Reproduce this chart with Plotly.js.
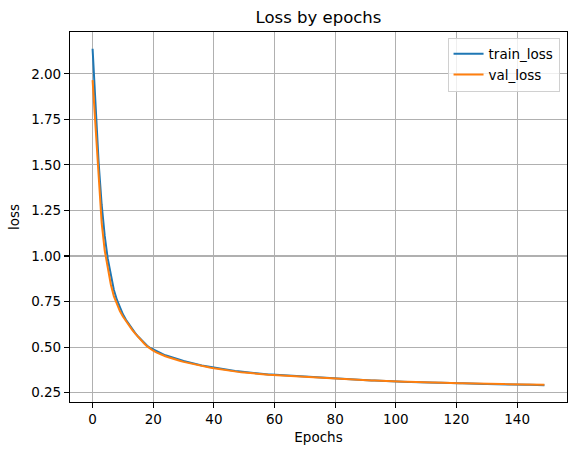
<!DOCTYPE html>
<html>
<head>
<meta charset="utf-8">
<script src="https://cdn.plot.ly/plotly-3.0.1.min.js"></script>
<style>
  html, body { margin: 0; padding: 0; background: #fff; }
  #chart { width: 576px; height: 455px; }
</style>
</head>
<body>
<div id="chart"></div>
<script>
// values, one per epoch (0..149)
const trainLoss = [
  2.137, 1.800, 1.510, 1.280, 1.110, 0.985, 0.890, 0.815, 0.760, 0.715,
  0.680, 0.650, 0.624, 0.600, 0.578, 0.558, 0.540, 0.524, 0.507, 0.495,
  0.486, 0.477, 0.469, 0.462, 0.455, 0.449, 0.443, 0.438, 0.434, 0.429,
  0.424, 0.419, 0.415, 0.411, 0.407, 0.403, 0.399, 0.396, 0.393, 0.390,
  0.387, 0.384, 0.381, 0.378, 0.376, 0.373, 0.371, 0.369, 0.367, 0.365,
  0.363, 0.361, 0.359, 0.358, 0.356, 0.355, 0.353, 0.352, 0.350, 0.349,
  0.348, 0.346, 0.345, 0.344, 0.343, 0.342, 0.341, 0.340, 0.339, 0.338,
  0.337, 0.336, 0.335, 0.334, 0.333, 0.332, 0.331, 0.330, 0.329, 0.328,
  0.327, 0.326, 0.325, 0.325, 0.324, 0.323, 0.322, 0.321, 0.321, 0.320,
  0.319, 0.318, 0.317, 0.317, 0.316, 0.315, 0.314, 0.314, 0.313, 0.312,
  0.311, 0.311, 0.310, 0.310, 0.309, 0.309, 0.308, 0.308, 0.307, 0.307,
  0.306, 0.306, 0.305, 0.305, 0.304, 0.304, 0.303, 0.303, 0.303, 0.302,
  0.302, 0.301, 0.301, 0.300, 0.300, 0.300, 0.299, 0.299, 0.298, 0.298,
  0.298, 0.297, 0.297, 0.296, 0.296, 0.296, 0.295, 0.295, 0.295, 0.294,
  0.294, 0.294, 0.293, 0.293, 0.293, 0.292, 0.292, 0.292, 0.291, 0.291
];

const valLoss = [
  1.965, 1.690, 1.390, 1.180, 1.030, 0.925, 0.845, 0.780, 0.735, 0.698,
  0.668, 0.642, 0.618, 0.596, 0.575, 0.555, 0.537, 0.520, 0.504, 0.491,
  0.480, 0.471, 0.463, 0.456, 0.450, 0.444, 0.438, 0.433, 0.428, 0.424,
  0.419, 0.415, 0.411, 0.407, 0.403, 0.400, 0.396, 0.393, 0.390, 0.387,
  0.384, 0.381, 0.378, 0.376, 0.373, 0.371, 0.369, 0.366, 0.364, 0.362,
  0.361, 0.359, 0.357, 0.356, 0.354, 0.353, 0.351, 0.350, 0.348, 0.347,
  0.346, 0.345, 0.344, 0.342, 0.341, 0.340, 0.339, 0.338, 0.337, 0.336,
  0.335, 0.334, 0.333, 0.333, 0.332, 0.331, 0.330, 0.329, 0.328, 0.327,
  0.327, 0.326, 0.325, 0.324, 0.323, 0.323, 0.322, 0.321, 0.320, 0.320,
  0.319, 0.318, 0.317, 0.317, 0.316, 0.315, 0.315, 0.314, 0.313, 0.313,
  0.312, 0.311, 0.311, 0.310, 0.310, 0.309, 0.309, 0.308, 0.308, 0.307,
  0.307, 0.306, 0.306, 0.306, 0.305, 0.305, 0.304, 0.304, 0.304, 0.303,
  0.303, 0.302, 0.302, 0.302, 0.301, 0.301, 0.301, 0.300, 0.300, 0.300,
  0.299, 0.299, 0.299, 0.298, 0.298, 0.298, 0.297, 0.297, 0.297, 0.296,
  0.296, 0.296, 0.295, 0.295, 0.295, 0.295, 0.294, 0.294, 0.294, 0.293
];

const epochs = trainLoss.map((_, i) => i);
const xTicks = [0, 20, 40, 60, 80, 100, 120, 140];
const yTicks = [0.25, 0.50, 0.75, 1.00, 1.25, 1.50, 1.75, 2.00];

const FONT = 'DejaVu Sans, sans-serif';
const gridColor = '#b0b0b0';

// matplotlib style 5% padding around the data
const xMin = 0, xMax = epochs.length - 1;
const allY = trainLoss.concat(valLoss);
const yMin = Math.min(...allY), yMax = Math.max(...allY);
const xPad = (xMax - xMin) * 0.05, yPad = (yMax - yMin) * 0.05;

const traces = [
  {
    x: epochs, y: trainLoss, type: 'scatter', mode: 'lines', name: 'train_loss',
    line: { color: '#1f77b4', width: 2 }
  },
  {
    x: epochs, y: valLoss, type: 'scatter', mode: 'lines', name: 'val_loss',
    line: { color: '#ff7f0e', width: 2 }
  }
];

const axisCommon = {
  showline: true, mirror: true, linecolor: '#000', linewidth: 1.1,
  showgrid: true, gridcolor: gridColor, gridwidth: 1.1,
  zeroline: false,
  ticks: 'outside', ticklen: 5, tickwidth: 1.1, tickcolor: '#000',
  tickfont: { family: FONT, size: 13.5, color: '#000' }
};

const layout = {
  width: 576, height: 455,
  paper_bgcolor: '#fff', plot_bgcolor: '#fff',
  margin: { l: 70, r: 9, t: 32, b: 53 },
  font: { family: FONT, color: '#000' },
  title: {
    text: 'Loss by epochs',
    font: { family: FONT, size: 16.5, color: '#000' },
    xref: 'paper', x: 0.5, xanchor: 'center',
    yref: 'container', y: 1 - 17 / 455, yanchor: 'middle'
  },
  xaxis: Object.assign({}, axisCommon, {
    range: [xMin - xPad, xMax + xPad],
    tickmode: 'array', tickvals: xTicks, ticktext: xTicks.map(String),
    title: { text: 'Epochs', font: { family: FONT, size: 13.5 }, standoff: 6 }
  }),
  yaxis: Object.assign({}, axisCommon, {
    range: [yMin - yPad, yMax + yPad],
    tickmode: 'array', tickvals: yTicks, ticktext: yTicks.map(v => v.toFixed(2)),
    title: { text: 'loss', font: { family: FONT, size: 13.5 }, standoff: 8 }
  }),
  showlegend: true,
  legend: {
    x: 0.985, xanchor: 'right', y: 0.985, yanchor: 'top',
    bgcolor: 'rgba(255,255,255,0.8)', bordercolor: '#d0d0d0', borderwidth: 1,
    font: { family: FONT, size: 13.5, color: '#000' },
    tracegroupgap: 0
  }
};

Plotly.newPlot('chart', traces, layout, { displayModeBar: false, staticPlot: true });
</script>
</body>
</html>
